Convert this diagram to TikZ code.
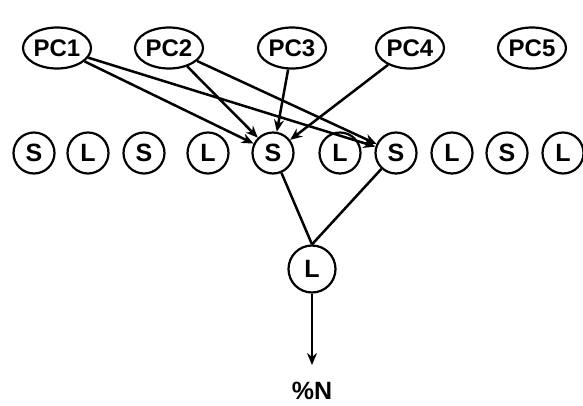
\documentclass[tikz,border=0pt]{standalone}
\usepackage{fontspec}
\setmainfont{Liberation Sans}
\usetikzlibrary{shapes.geometric,arrows.meta}
\begin{document}
\begin{tikzpicture}[x=1pt,y=-1pt,
  pc/.style={draw,ellipse,line width=2.2pt,minimum width=68pt,minimum height=41pt,inner sep=0pt,font=\fontsize{24}{24}\selectfont\bfseries},
  unit/.style={draw,circle,line width=2.2pt,minimum size=41pt,inner sep=0pt,font=\fontsize{25}{25}\selectfont\bfseries},
  conn/.style={line width=2.5pt},
  arr/.style={line width=2.5pt,-{Stealth[length=12pt,width=10pt]}}]
\useasboundingbox (0,0) rectangle (583,405);
\node[pc] (pc1) at (57,48) {PC1};
\node[pc] (pc2) at (169,48) {PC2};
\node[pc] (pc3) at (292,48) {PC3};
\node[pc] (pc4) at (410,48) {PC4};
\node[pc] (pc5) at (532,48) {PC5};
\node[unit] (u1) at (34,153) {S};
\node[unit] (u2) at (88,153) {L};
\node[unit] (u3) at (144,153) {S};
\node[unit] (u4) at (208,153) {L};
\node[unit] (u5) at (273,153) {S};
\node[unit] (u6) at (340,153) {L};
\node[unit] (u7) at (396,153) {S};
\node[unit] (u8) at (452,153) {L};
\node[unit] (u9) at (507,153) {S};
\node[unit] (u10) at (563,153) {L};
\node[unit,minimum size=47pt] (out) at (312,269) {L};
\node[font=\fontsize{25}{25}\selectfont\bfseries,inner sep=1pt] (n) at (312,391) {\%N};
\coordinate (tip) at (312,365);
\draw[arr] (pc1) -- (u5);
\draw[arr] (pc1) -- (u7);
\draw[arr] (pc2) -- (u5);
\draw[arr] (pc2) -- (u7);
\draw[arr] (pc3) -- (u5);
\draw[arr] (pc4) -- (u5);
\draw[conn] (u5) -- (out.north);
\draw[conn] (u7) -- (out.north);
\draw[arr] (out) -- (tip);
\end{tikzpicture}
\end{document}
